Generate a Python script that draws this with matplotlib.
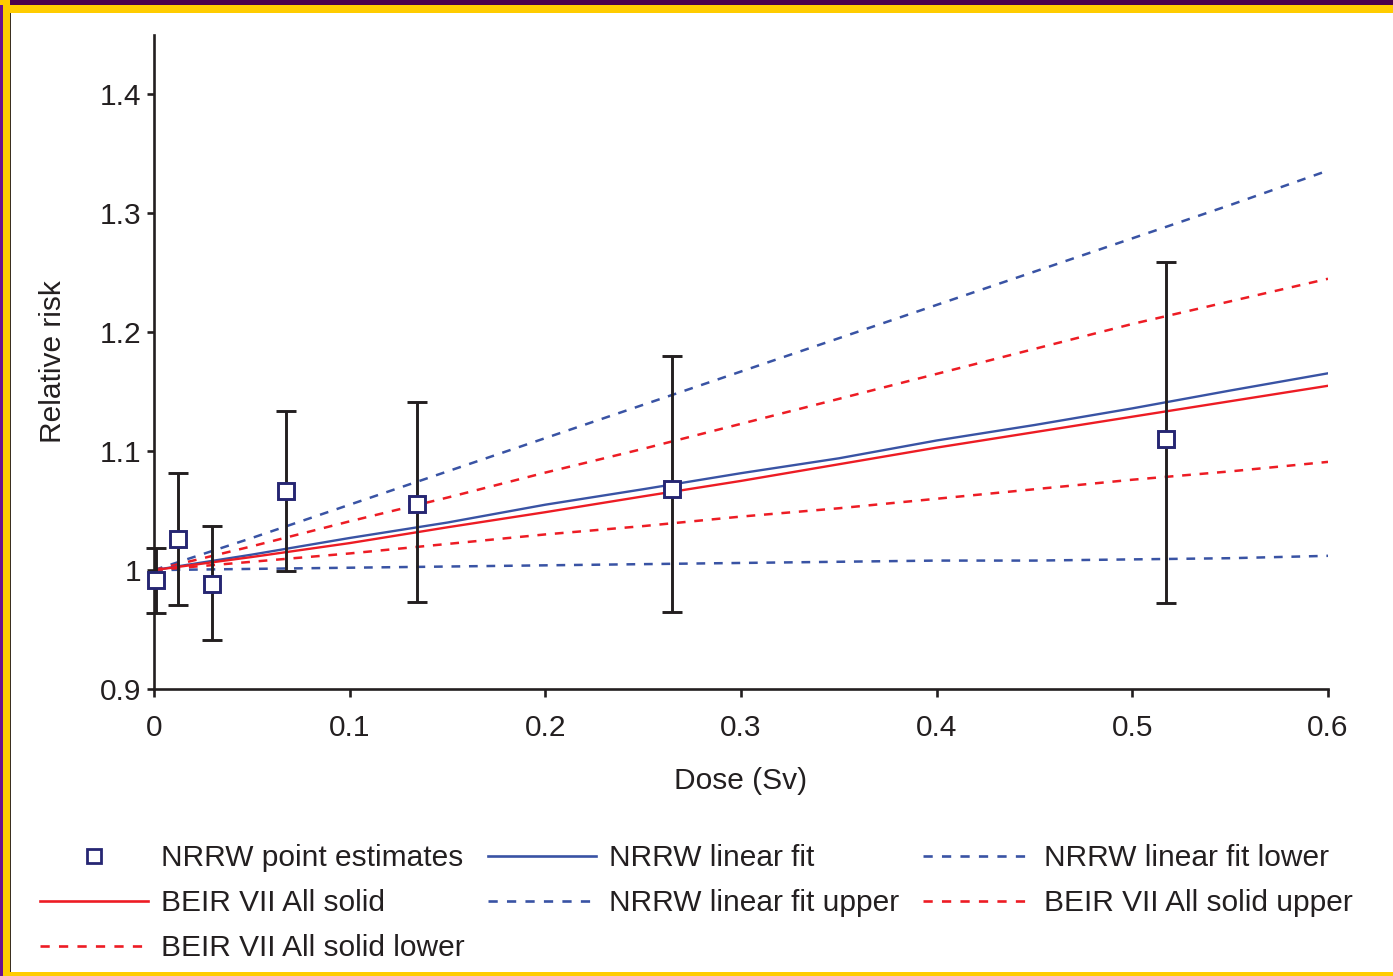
import numpy as np
import matplotlib
matplotlib.use('Agg')
import matplotlib.pyplot as plt
from matplotlib import patches
from matplotlib.lines import Line2D

plt.rcParams['font.family'] = ['Liberation Sans', 'DejaVu Sans']

W, H = 1393, 976
txt = '#231f20'
blue = '#3953a4'
red = '#ed1c24'
navy = '#262673'

# NRRW point estimates with 95% CI
dose_pts = [0.001, 0.0123, 0.0296, 0.0675, 0.1344, 0.2647, 0.5172]
rr_pts = [0.9916, 1.026, 0.988, 1.0664, 1.0555, 1.068, 1.110]
rr_lo = [0.9639, 0.9706, 0.941, 0.9992, 0.9731, 0.9647, 0.9723]
rr_hi = [1.0185, 1.0815, 1.037, 1.1336, 1.1412, 1.1798, 1.2588]

# fitted curves
dose = [0.0, 0.05, 0.1, 0.15, 0.2, 0.25, 0.3, 0.35, 0.4, 0.45, 0.5, 0.55, 0.6]
nrrw_fit = [1.0, 1.013, 1.027, 1.040, 1.055, 1.068, 1.0815, 1.094, 1.109, 1.122, 1.136, 1.151, 1.1655]
nrrw_lower = [1.0, 1.001, 1.002, 1.003, 1.004, 1.005, 1.006, 1.007, 1.008, 1.008, 1.009, 1.010, 1.012]
nrrw_upper = [1.0, 1.027, 1.055, 1.083, 1.111, 1.139, 1.167, 1.195, 1.223, 1.251, 1.279, 1.307, 1.336]
beir_fit = [1.0, 1.011, 1.0227, 1.036, 1.0487, 1.062, 1.075, 1.089, 1.103, 1.116, 1.129, 1.142, 1.155]
beir_upper = [1.0, 1.020, 1.041, 1.061, 1.082, 1.102, 1.123, 1.144, 1.165, 1.186, 1.207, 1.226, 1.245]
beir_lower = [1.0, 1.007, 1.014, 1.022, 1.030, 1.037, 1.045, 1.052, 1.060, 1.068, 1.076, 1.083, 1.091]


def fx(px):
    return px / W


def fy(py):
    return 1 - py / H


fig = plt.figure(figsize=(W / 100, H / 100), dpi=100)
ax = fig.add_axes([fx(154), fy(689), fx(1328) - fx(154), fy(35) - fy(689)])

dash = (0, (3.5, 3.5))
ax.plot(dose, nrrw_lower, color=blue, lw=1.8, ls=dash)
ax.plot(dose, nrrw_upper, color=blue, lw=1.8, ls=dash)
ax.plot(dose, beir_lower, color=red, lw=1.8, ls=dash)
ax.plot(dose, beir_upper, color=red, lw=1.8, ls=dash)
ax.plot(dose, nrrw_fit, color=blue, lw=1.7)
ax.plot(dose, beir_fit, color=red, lw=1.7)

yerr = [np.array(rr_pts) - np.array(rr_lo), np.array(rr_hi) - np.array(rr_pts)]
eb = ax.errorbar(dose_pts, rr_pts, yerr=yerr, fmt='none', ecolor=txt,
                 elinewidth=2.1, capsize=7.5, capthick=2.1, zorder=4)
for art in eb.get_children():
    art.set_clip_on(False)
ax.plot(dose_pts, rr_pts, ls='none', marker='s', ms=11.5, mfc='white',
        mec=navy, mew=2.1, zorder=5, clip_on=False)

ax.set_xlim(0, 0.6)
ax.set_ylim(0.9, 1.45)
ax.set_xticks([0, 0.1, 0.2, 0.3, 0.4, 0.5, 0.6])
ax.set_xticklabels(['0', '0.1', '0.2', '0.3', '0.4', '0.5', '0.6'])
ax.set_yticks([0.9, 1.0, 1.1, 1.2, 1.3, 1.4])
ax.set_yticklabels(['0.9', '1', '1.1', '1.2', '1.3', '1.4'])
for s in ['top', 'right']:
    ax.spines[s].set_visible(False)
for s in ['left', 'bottom']:
    ax.spines[s].set_linewidth(1.9)
    ax.spines[s].set_color(txt)
ax.tick_params(axis='x', length=6, width=1.9, color=txt, labelsize=21.5,
               labelcolor=txt, pad=12)
ax.tick_params(axis='y', length=5, width=1.9, color=txt, labelsize=21.5,
               labelcolor=txt, pad=4)
ax.set_xlabel('Dose (Sv)', fontsize=21.5, color=txt, labelpad=18)
ax.set_ylabel('Relative risk', fontsize=21.5, color=txt, labelpad=24)

handles = [
    Line2D([], [], ls='none', marker='s', ms=10, mfc='white', mec=navy, mew=2.0),
    Line2D([], [], color=red, lw=1.9),
    Line2D([], [], color=red, lw=1.9, ls=dash),
    Line2D([], [], color=blue, lw=1.9),
    Line2D([], [], color=blue, lw=1.9, ls=dash),
    Line2D([], [], color=blue, lw=1.9, ls=dash),
    Line2D([], [], color=red, lw=1.9, ls=dash),
]
labels = ['NRRW point estimates', 'BEIR VII All solid', 'BEIR VII All solid lower',
          'NRRW linear fit', 'NRRW linear fit upper', 'NRRW linear fit lower',
          'BEIR VII All solid upper']
leg = fig.legend(handles, labels, ncol=3, loc='upper left',
                 bbox_to_anchor=(fx(40), fy(844)), frameon=False,
                 fontsize=21.5, handlelength=3.6, handletextpad=0.45,
                 columnspacing=0.8, labelspacing=0.57, borderpad=0,
                 borderaxespad=0, numpoints=1)
for t in leg.get_texts():
    t.set_color(txt)

# frame around the figure
fig.add_artist(patches.Rectangle((0, fy(13)), 1, fy(0) - fy(13),
               transform=fig.transFigure, fc='#ffcc00', ec='none'))
fig.add_artist(patches.Rectangle((0, fy(5)), 1, fy(0) - fy(5),
               transform=fig.transFigure, fc='#4a004c', ec='none'))
fig.add_artist(patches.Rectangle((0, 0), fx(10), 1,
               transform=fig.transFigure, fc='#ffcc00', ec='none'))
fig.add_artist(patches.Rectangle((0, 0), fx(2.5), fy(5),
               transform=fig.transFigure, fc='#6a0f8e', ec='none'))
fig.add_artist(patches.Rectangle((fx(9.5), fy(972)), fx(1.5), fy(13) - fy(972),
               transform=fig.transFigure, fc='#3b3020', ec='none'))
fig.add_artist(patches.Rectangle((fx(9.5), 0), 1, fy(972),
               transform=fig.transFigure, fc='#ffcc00', ec='none'))

fig.savefig('out.png', dpi=100)
